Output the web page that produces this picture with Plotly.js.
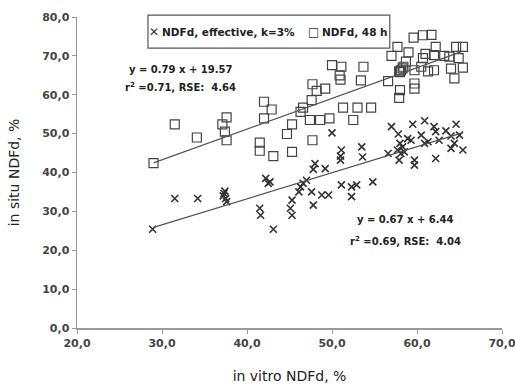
<!DOCTYPE html>
<html>
<head>
<meta charset="utf-8">
<script src="https://cdn.plot.ly/plotly-3.0.1.min.js"></script>
<style>html,body{margin:0;padding:0;background:#fff;}#chart{width:515px;height:384px;}</style>
</head>
<body>
<div id="chart"></div>
<script>
// NDFd, 48 h (open squares)
const h48X = [29.0,31.5,34.1,37.1,37.6,37.4,37.6,
  42.0,42.9,42.0,41.5,41.5,43.1,45.3,44.7,47.7,
  47.7,48.2,49.2,47.6,46.6,46.3,45.3,47.4,48.6,49.7,
  50.0,51.1,50.9,51.0,53.7,53.4,51.3,53.0,54.6,52.5,
  56.6,57.0,57.7,59.0,59.6,60.7,61.7,
  58.1,58.3,58.0,58.4,57.9,58.7,59.7,59.7,59.7,58.0,57.9,
  60.7,60.5,61.3,62.0,62.2,62.0,63.2,63.8,64.6,65.4,64.9,64.0,65.4,64.4,61.0];
const h48Y = [42.4,52.4,49.0,52.4,54.2,50.5,48.3,
  58.2,56.2,53.9,47.7,45.6,44.2,45.3,49.9,48.3,
  62.7,61.0,61.6,58.6,56.7,55.6,52.4,53.5,53.5,53.9,
  67.6,67.2,65.0,63.9,67.2,63.7,56.7,56.7,56.7,53.5,
  63.5,70.0,72.3,70.9,74.7,75.3,75.4,
  66.3,66.8,65.8,67.2,66.0,68.5,66.3,62.9,61.6,61.2,59.2,
  69.4,67.2,66.0,66.3,72.3,70.2,70.0,69.8,72.3,72.3,69.4,66.7,67.0,64.2,70.5];

// NDFd, effective, k=3% (x markers)
const effX = [28.9,31.5,34.2,37.3,37.5,37.4,37.6,37.2,
  42.2,42.5,42.7,41.5,41.6,43.1,
  45.3,45.1,45.3,46.1,46.3,46.6,47.0,47.6,47.8,48.0,47.8,49.2,48.8,49.6,
  50.0,51.1,51.0,51.0,53.5,53.6,51.1,52.3,52.9,54.8,52.3,
  56.6,57.0,57.8,59.5,60.9,62.0,62.2,63.4,64.6,65.0,64.0,64.4,64.0,65.4,
  59.3,60.5,60.9,61.3,62.6,58.3,58.1,57.9,58.5,59.7,59.7,62.2,58.9,58.0,57.7];
const effY = [25.4,33.3,33.3,34.6,33.3,35.2,32.5,34.0,
  38.5,37.2,37.6,30.8,29.0,25.4,
  32.9,30.8,29.0,35.0,36.3,37.2,38.0,35.0,31.6,42.3,40.8,41.0,34.2,34.2,
  50.2,45.8,44.2,43.2,46.6,44.0,36.8,36.3,36.8,37.6,33.8,
  44.9,51.8,49.9,52.4,53.3,51.8,50.5,50.7,52.4,49.6,49.4,47.5,46.2,45.8,
  48.3,49.6,47.5,47.9,48.3,46.6,44.9,43.2,45.3,43.2,41.9,43.6,48.7,47.5,45.8];

// Trend lines (from the equations printed on the chart)
const fitXRange = [29.0, 65.4];
const h48Fit = {slope: 0.79, intercept: 19.57};
const effFit = {slope: 0.67, intercept: 6.44};

const xTickVals = [20,30,40,50,60,70];
const xTickText = ["20,0","30,0","40,0","50,0","60,0","70,0"];
const yTickVals = [0,10,20,30,40,50,60,70,80];
const yTickText = ["0,0","10,0","20,0","30,0","40,0","50,0","60,0","70,0","80,0"];

const legendEff = "NDFd, effective, k=3%";
const legendH48 = "NDFd, 48 h";
const eqH48 = ["y = 0.79 x + 19.57", "r<sup>2</sup> =0.71, RSE:  4.64"];
const eqEff = ["y = 0.67 x + 6.44", "r<sup>2</sup> =0.69, RSE:  4.04"];

const fitY = (f) => fitXRange.map(x => f.slope * x + f.intercept);

const boldFont = {family: "DejaVu Sans, Verdana, sans-serif", size: 10, color: "#222", weight: "bold"};
const legFont = {family: "DejaVu Sans, Verdana, sans-serif", size: 10.5, color: "#222", weight: "bold"};
const tickFont = {family: "DejaVu Sans, Verdana, sans-serif", size: 11, color: "#444", weight: "bold"};
const titleFont = {family: "DejaVu Sans, sans-serif", size: 14, color: "#222"};

const traces = [
  {x: effX, y: effY, type: "scatter", mode: "markers", name: legendEff,
   marker: {symbol: "x-thin-open", size: 7, line: {color: "#333", width: 1.6}, color: "#333"}},
  {x: h48X, y: h48Y, type: "scatter", mode: "markers", name: legendH48,
   marker: {symbol: "square-open", size: 9, color: "#444", line: {color: "#444", width: 1.2}}},
  {x: fitXRange, y: fitY(h48Fit), type: "scatter", mode: "lines",
   line: {color: "#555", width: 1.2}, hoverinfo: "skip"},
  {x: fitXRange, y: fitY(effFit), type: "scatter", mode: "lines",
   line: {color: "#555", width: 1.2}, hoverinfo: "skip"}
];

const layout = {
  width: 515, height: 384,
  margin: {l: 77, r: 13, t: 17, b: 56},
  paper_bgcolor: "#fff", plot_bgcolor: "#fff",
  showlegend: false,
  xaxis: {range: [20, 70], tickvals: xTickVals, ticktext: xTickText,
    showgrid: false, zeroline: false, showline: true, linecolor: "#999", linewidth: 1.5,
    ticks: "outside", ticklen: 4, tickcolor: "#999", tickfont: tickFont,
    ticklabeloverflow: "allow",
    title: {text: "in vitro NDFd, %", font: titleFont, standoff: 28}},
  yaxis: {range: [0, 80], tickvals: yTickVals, ticktext: yTickText,
    showgrid: false, zeroline: false, showline: true, linecolor: "#999", linewidth: 1.5,
    ticks: "outside", ticklen: 4, tickcolor: "#999", tickfont: tickFont,
    ticklabeloverflow: "allow",
    title: {text: "in situ NDFd, %", font: titleFont, standoff: 19}},
  shapes: [
    {type: "rect", xref: "paper", yref: "paper", x0: 0.167, x1: 0.736, y0: 0.900, y1: 1.006,
     line: {color: "#555", width: 1.2}, fillcolor: "#fff", layer: "above"}
  ],
  annotations: [
    {xref: "paper", yref: "paper", x: 0.180, y: 0.953, text: "✕", showarrow: false,
     font: {family: "DejaVu Sans", size: 12, color: "#333"}, xanchor: "center", yanchor: "middle"},
    {xref: "paper", yref: "paper", x: 0.195, y: 0.953, text: legendEff, showarrow: false,
     font: legFont, xanchor: "left", yanchor: "middle"},
    {xref: "paper", yref: "paper", x: 0.556, y: 0.953, text: "□", showarrow: false,
     font: {family: "DejaVu Sans", size: 12, color: "#333"}, xanchor: "center", yanchor: "middle"},
    {xref: "paper", yref: "paper", x: 0.571, y: 0.953, text: legendH48, showarrow: false,
     font: legFont, xanchor: "left", yanchor: "middle"},
    {xref: "paper", yref: "paper", x: 0.2424, y: 0.8296, text: eqH48[0], showarrow: false, font: boldFont, xanchor: "center", yanchor: "middle"},
    {xref: "paper", yref: "paper", x: 0.2424, y: 0.7749, text: eqH48[1], showarrow: false, font: boldFont, xanchor: "center", yanchor: "middle"},
    {xref: "paper", yref: "paper", x: 0.7718, y: 0.3473, text: eqEff[0], showarrow: false, font: boldFont, xanchor: "center", yanchor: "middle"},
    {xref: "paper", yref: "paper", x: 0.7718, y: 0.2797, text: eqEff[1], showarrow: false, font: boldFont, xanchor: "center", yanchor: "middle"}
  ]
};

Plotly.newPlot("chart", traces, layout, {displayModeBar: false, staticPlot: true});
</script>
</body>
</html>
